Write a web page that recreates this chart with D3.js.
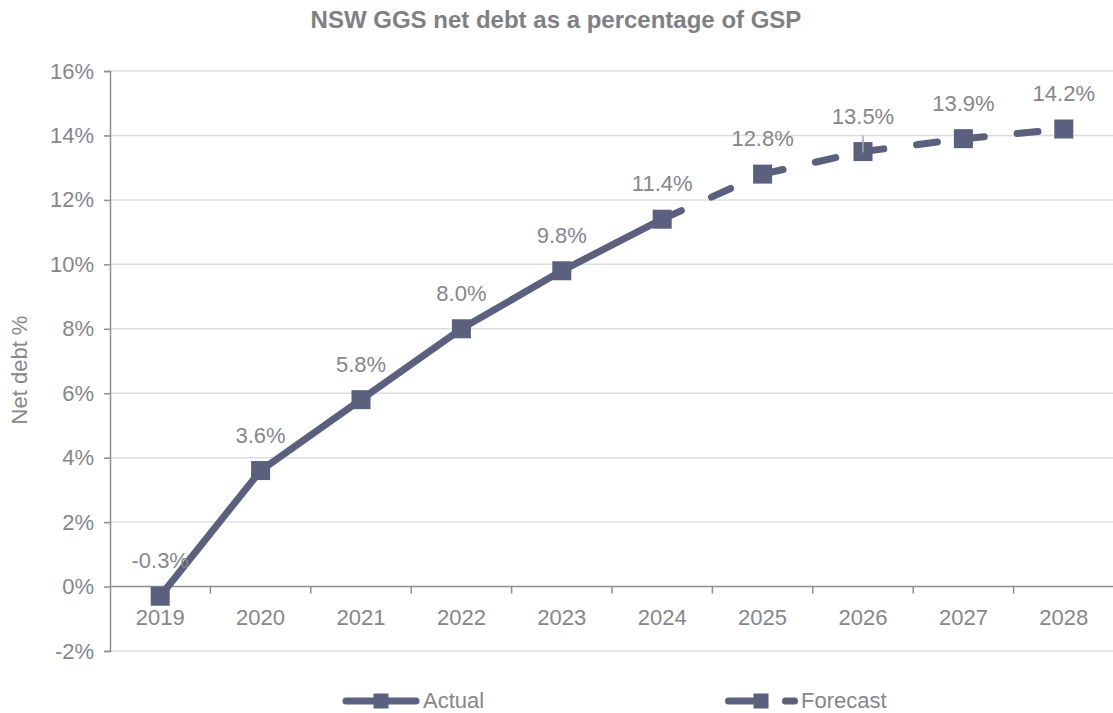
<!DOCTYPE html>
<html>
<head>
<meta charset="utf-8">
<script src="https://cdn.jsdelivr.net/npm/d3@7"></script>
<style>
  html, body { margin: 0; padding: 0; background: #fff; }
  svg { display: block; font-family: "Liberation Sans", Arial, sans-serif; }
</style>
</head>
<body>
<svg id="chart" width="1113" height="713"></svg>
<script>
// NSW general government sector net debt, % of gross state product
const years = ["2019", "2020", "2021", "2022", "2023", "2024", "2025", "2026", "2027", "2028"];
const actualValues = [-0.3, 3.6, 5.8, 8.0, 9.8, 11.4, null, null, null, null];
const forecastValues = [null, null, null, null, null, 11.4, 12.8, 13.5, 13.9, 14.2];
const labelValues = [-0.3, 3.6, 5.8, 8.0, 9.8, 11.4, 12.8, 13.5, 13.9, 14.2];
const yTicks = [-2, 0, 2, 4, 6, 8, 10, 12, 14, 16];
const seriesNames = ["Actual", "Forecast"];

const lineColor = "#5a607e";
const textColor = "#86868b";
const axisColor = "#8e8e93";
const gridColor = "#dcdcdc";

const svg = d3.select("#chart");
const plot = { left: 110, right: 1114, top: 71, bottom: 651 };

const x = d3.scaleBand().domain(years).range([plot.left, plot.right]).padding(0);
const y = d3.scaleLinear().domain([-2, 16]).range([plot.bottom, plot.top]);
const cx = d => x(d) + x.bandwidth() / 2;

// Title
svg.append("text")
  .attr("x", 556).attr("y", 28)
  .attr("text-anchor", "middle")
  .attr("font-size", 24).attr("font-weight", "bold")
  .attr("fill", "#7f7f84")
  .text("NSW GGS net debt as a percentage of GSP");

// Horizontal gridlines
svg.append("g").selectAll("line").data(yTicks.filter(t => t !== 0)).join("line")
  .attr("x1", plot.left).attr("x2", plot.right)
  .attr("y1", d => y(d)).attr("y2", d => y(d))
  .attr("stroke", gridColor).attr("stroke-width", 1.5);

// Y axis
const yAxis = svg.append("g")
  .attr("transform", `translate(${plot.left},0)`)
  .call(d3.axisLeft(y).tickValues(yTicks).tickFormat(d => d + "%").tickSize(6).tickPadding(10));
yAxis.select(".domain").attr("stroke", axisColor).attr("stroke-width", 1.5);
yAxis.selectAll(".tick line").attr("stroke", axisColor).attr("stroke-width", 1.5);
yAxis.selectAll(".tick text").attr("fill", textColor).attr("font-size", 22)
  .attr("font-family", "Liberation Sans, Arial, sans-serif");

// X axis along the zero line, ticks at category boundaries
const xAxisG = svg.append("g").attr("transform", `translate(0,${y(0)})`);
xAxisG.append("line")
  .attr("x1", plot.left).attr("x2", plot.right)
  .attr("stroke", axisColor).attr("stroke-width", 1.5);
xAxisG.selectAll("line.tk").data(years.slice(1)).join("line")
  .attr("class", "tk")
  .attr("x1", d => x(d)).attr("x2", d => x(d))
  .attr("y1", 0).attr("y2", 7)
  .attr("stroke", axisColor).attr("stroke-width", 1.5);
xAxisG.selectAll("text").data(years).join("text")
  .attr("x", d => cx(d)).attr("y", 38)
  .attr("text-anchor", "middle")
  .attr("font-size", 22).attr("fill", textColor)
  .text(d => d);

// Y axis title
svg.append("text")
  .attr("transform", "translate(27,370) rotate(-90)")
  .attr("text-anchor", "middle")
  .attr("font-size", 22).attr("fill", textColor)
  .text("Net debt %");

// Actual series: solid line
const actualPts = years.map((yr, i) => ({ yr, v: actualValues[i] })).filter(d => d.v !== null);
const line = d3.line().x(d => cx(d.yr)).y(d => y(d.v));
svg.append("path")
  .datum(actualPts)
  .attr("d", line)
  .attr("fill", "none").attr("stroke", lineColor)
  .attr("stroke-width", 7).attr("stroke-linejoin", "round").attr("stroke-linecap", "round");

// Forecast series: dashed, pattern restarts on each segment
const forecastPts = years.map((yr, i) => ({ yr, v: forecastValues[i] })).filter(d => d.v !== null);
const segs = d3.pairs(forecastPts);
svg.append("g").selectAll("path").data(segs).join("path")
  .attr("d", d => line(d))
  .attr("fill", "none").attr("stroke", lineColor)
  .attr("stroke-width", 7).attr("stroke-linecap", "round")
  .attr("stroke-dasharray", "21 33");

// Square markers
const markerSize = 19;
const allPts = actualPts.concat(forecastPts.slice(1));
svg.append("g").selectAll("rect").data(allPts).join("rect")
  .attr("x", d => cx(d.yr) - markerSize / 2)
  .attr("y", d => y(d.v) - markerSize / 2)
  .attr("width", markerSize).attr("height", markerSize)
  .attr("fill", lineColor);

// Leader line for the 2026 label
const leaderYear = "2026";
const leaderVal = labelValues[years.indexOf(leaderYear)];
svg.append("line")
  .attr("x1", cx(leaderYear)).attr("x2", cx(leaderYear))
  .attr("y1", y(leaderVal) - 16).attr("y2", y(leaderVal) + 1)
  .attr("stroke", "#a6a6a6").attr("stroke-width", 1.5);

// Data labels
svg.append("g").selectAll("text").data(years.map((yr, i) => ({ yr, v: labelValues[i] }))).join("text")
  .attr("x", d => cx(d.yr))
  .attr("y", d => y(d.v) - 28)
  .attr("text-anchor", "middle")
  .attr("font-size", 22).attr("fill", textColor)
  .text(d => d.v.toFixed(1) + "%");

// Legend
const legY = 701;
const leg = svg.append("g");
// Actual
leg.append("line").attr("x1", 346).attr("x2", 416).attr("y1", legY).attr("y2", legY)
  .attr("stroke", lineColor).attr("stroke-width", 7).attr("stroke-linecap", "round");
leg.append("rect").attr("x", 381 - 7.5).attr("y", legY - 7.5).attr("width", 15).attr("height", 15)
  .attr("fill", lineColor);
leg.append("text").attr("x", 423).attr("y", 708)
  .attr("font-size", 22).attr("fill", textColor).text(seriesNames[0]);
// Forecast
leg.append("line").attr("x1", 728.5).attr("x2", 794.5).attr("y1", legY).attr("y2", legY)
  .attr("stroke", lineColor).attr("stroke-width", 7).attr("stroke-linecap", "round")
  .attr("stroke-dasharray", "25 32");
leg.append("rect").attr("x", 761 - 7.5).attr("y", legY - 7.5).attr("width", 15).attr("height", 15)
  .attr("fill", lineColor);
leg.append("text").attr("x", 801).attr("y", 708)
  .attr("font-size", 22).attr("fill", textColor).text(seriesNames[1]);
</script>
</body>
</html>
